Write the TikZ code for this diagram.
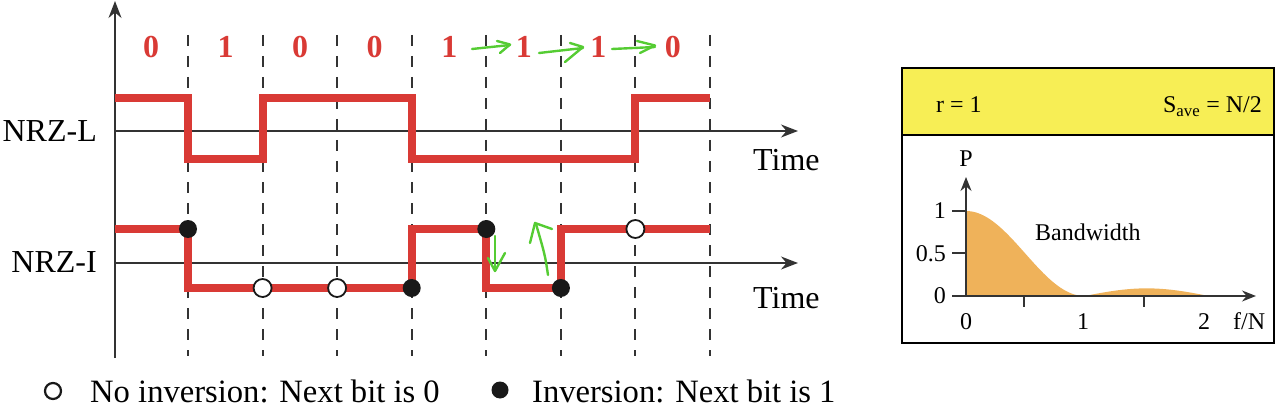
\documentclass[tikz,border=0pt]{standalone}
\usepackage{fontspec}
\setmainfont{Liberation Serif}
\usetikzlibrary{arrows.meta}
\definecolor{sigred}{HTML}{D93A35}
\definecolor{hdryellow}{HTML}{F7EE55}
\definecolor{psdorange}{HTML}{EFB25A}
\definecolor{pengreen}{HTML}{55CC33}
\definecolor{axisgray}{HTML}{333333}
\tikzset{
  axisline/.style={draw=axisgray, line width=1.6pt},
  axisarrow/.style={axisline, -{Stealth[length=17pt,width=13pt]}},
  gridline/.style={draw=axisgray, line width=2pt, dash pattern=on 11pt off 10pt},
  signal/.style={draw=sigred, line width=8pt, line join=miter},
  bitlbl/.style={text=sigred, font=\fontsize{32}{36}\selectfont\bfseries, inner sep=0pt, anchor=base},
  biglbl/.style={font=\fontsize{32}{36}\selectfont, inner sep=0pt},
  leglbl/.style={font=\fontsize{32.6}{36}\selectfont, inner sep=0pt},
  smalllbl/.style={font=\fontsize{24}{28}\selectfont, inner sep=0pt},
  fulldot/.style={circle, fill=black!90, minimum size=18pt, inner sep=0pt},
  opendot/.style={circle, fill=white, draw=black!90, line width=1.8pt, minimum size=18pt, inner sep=0pt},
  penarrow/.style={draw=pengreen, line width=2.4pt, line cap=round, line join=round},
}
\begin{document}
\begin{tikzpicture}[x=1pt,y=-1pt]
\useasboundingbox (0,0) rectangle (1280,409);

% vertical axis
\coordinate (vbot) at (115,358);
\coordinate (vtop) at (115,1);
\draw[axisarrow] (vbot) -- (vtop);

% dashed bit boundaries
\foreach \k in {0,...,7}{
  \draw[gridline] ({188+74.57*\k},35) -- ({188+74.57*\k},356);
}

% time axes
\coordinate (La) at (115,131);
\coordinate (Lb) at (798,131);
\coordinate (Ia) at (115,263);
\coordinate (Ib) at (798,263);
\draw[axisarrow] (La) -- (Lb);
\draw[axisarrow] (Ia) -- (Ib);

% bits
\foreach \b [count=\i from 0] in {0,1,0,0,1,1,1,0}{
  \node[bitlbl] (bit\i) at ({151+74.57*\i},58) {\b};
}

% NRZ-L signal
\draw[signal] (115,98) -| (188,159) -| (262.6,98) -| (411.7,159) -| (635.4,98) -- (710,98);
% NRZ-I signal
\draw[signal] (115,229) -| (188,288) -| (411.7,229) -| (486.3,288) -| (560.9,229) -- (710,229);

% transition markers
\node[fulldot] (d1) at (188,229) {};
\node[opendot] (o1) at (262.6,288) {};
\node[opendot] (o2) at (337.1,288) {};
\node[fulldot] (d2) at (411.7,288) {};
\node[fulldot] (d3) at (486.3,229) {};
\node[fulldot] (d4) at (560.9,288) {};
\node[opendot] (o3) at (635.4,229) {};

% labels
\node[biglbl, anchor=base east] (nrzl) at (97,142) {NRZ-L};
\node[biglbl, anchor=base east] (nrzi) at (97,272) {NRZ-I};
\node[biglbl, anchor=base west] (time1) at (753,171) {Time};
\node[biglbl, anchor=base west] (time2) at (753,308) {Time};

% legend
\node[opendot, minimum size=16pt, line width=2.2pt] (legopen) at (53,391) {};
\node[leglbl, anchor=base west] (legtxt1) at (90,402) {No inversion: Next bit is 0};
\node[fulldot, minimum size=17pt] (legfull) at (500,390) {};
\node[leglbl, anchor=base west] (legtxt2) at (532,402) {Inversion: Next bit is 1};

% green pen annotations
\draw[penarrow] (472,49) -- (510,45);
\draw[penarrow] (497,41) -- (510,44.5) -- (500,53);
\draw[penarrow] (539,53) -- (583,48);
\draw[penarrow] (570,43) -- (583,47) -- (565,62);
\draw[penarrow] (612,49) -- (655,47);
\draw[penarrow] (637,41) -- (655,45.5) -- (640,53);
\draw[penarrow] (495,236) -- (495,271);
\draw[penarrow] (488,258) -- (495,271) -- (505,253);
\draw[penarrow] (548,275) .. controls (545,255) .. (536,224);
\draw[penarrow] (530,243) -- (535,223) -- (552,229);

% right panel
\fill[hdryellow] (902,68) rectangle (1274,135);
\draw[black, line width=1.8pt] (902,68) rectangle (1274,343);
\draw[black, line width=1.8pt] (902,135) -- (1274,135);
\node[smalllbl, anchor=base west] (rlbl) at (936,113) {r = 1};
\node[smalllbl, anchor=base east] (slbl) at (1262,113) {S\textsubscript{ave} = N/2};

% PSD curve
\fill[psdorange] (966,296)
  -- plot[domain=0:1, samples=50] ({966+118.5*\x},{296-85*0.5*(1+cos(180*\x))})
  -- plot[domain=1:2.05, samples=40] ({966+118.5*\x},{296-85*0.09*sin(180*(\x-1)/1.05)})
  -- cycle;

% PSD axes
\coordinate (po) at (966,296);
\coordinate (py) at (966,177);
\coordinate (px0) at (952,296);
\coordinate (px) at (1256,296);
\draw[axisline, line width=1.5pt, -{Stealth[length=14pt,width=11pt]}] (po) -- (py);
\draw[axisline, line width=1.5pt, -{Stealth[length=14pt,width=11pt]}] (px0) -- (px);
\draw[axisline, line width=1.5pt] (952,211) -- (966,211);
\draw[axisline, line width=1.5pt] (952,253) -- (966,253);
\draw[axisline, line width=1.5pt] (1024,296) -- (1024,307);
\draw[axisline, line width=1.5pt] (1144,296) -- (1144,307);

\node[smalllbl, anchor=base] (plbl) at (966,167) {P};
\node[smalllbl, anchor=base east] (y1) at (946,218) {1};
\node[smalllbl, anchor=base east] (y05) at (946,261) {0.5};
\node[smalllbl, anchor=base east] (y0) at (946,303) {0};
\node[smalllbl, anchor=base] (x0) at (966,329) {0};
\node[smalllbl, anchor=base] (x1) at (1083,329) {1};
\node[smalllbl, anchor=base] (x2) at (1204,329) {2};
\node[smalllbl, anchor=base west] (fn) at (1233,329) {f/N};
\node[smalllbl, anchor=base west] (bw) at (1035,240) {Bandwidth};
\end{tikzpicture}
\end{document}
